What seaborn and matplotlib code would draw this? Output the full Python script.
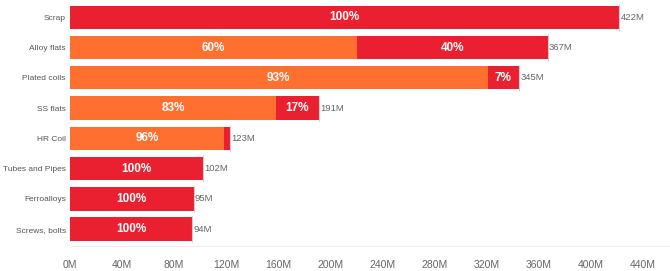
import matplotlib

matplotlib.use("Agg")
import matplotlib.pyplot as plt
import numpy as np
import pandas as pd
import seaborn as sns
from matplotlib.ticker import FuncFormatter, MultipleLocator

categories = [
    "Scrap",
    "Alloy flats",
    "Plated coils",
    "SS flats",
    "HR Coil",
    "Tubes and Pipes",
    "Ferroalloys",
    "Screws, bolts",
]
totals = [422, 367, 345, 191, 123, 102, 95, 94]
orange_pct = [0, 60, 93, 83, 96, 0, 0, 0]

RED = "#EA1F2F"
ORANGE = "#FF6F30"
GREY = "#666666"

sns.set_style("white")
plt.rcParams["font.family"] = ["Liberation Sans", "DejaVu Sans"]

df = pd.DataFrame({"category": categories, "total": totals, "pct": orange_pct})
df["orange"] = df["total"] * df["pct"] / 100.0

fig = plt.figure(figsize=(6.7, 2.71), dpi=100)
ax = fig.add_axes([0.1045, 0.092, 0.8955, 0.9])

sns.barplot(data=df, x="total", y="category", color=RED, width=0.77,
            saturation=1, ax=ax, edgecolor="none")
sns.barplot(data=df, x="orange", y="category", color=ORANGE, width=0.77,
            saturation=1, ax=ax, edgecolor="none")

ypos = np.arange(len(categories))
ax.vlines(df["total"], ypos - 0.44, ypos + 0.44, color="#cccccc", linewidth=0.8, zorder=3)

for i, row in df.iterrows():
    ax.text(row["total"] + 1.0, i, f"{row['total']}M", va="center", ha="left",
            fontsize=6.8, color=GREY)
    if row["pct"] > 0:
        ax.text(row["orange"] / 2, i, f"{row['pct']}%", va="center", ha="center",
                fontsize=8.5, color="white", fontweight="bold")
    red_pct = 100 - row["pct"]
    red_w = row["total"] - row["orange"]
    if red_pct > 0 and red_w > 15:
        ax.text(row["orange"] + red_w / 2, i, f"{red_pct}%", va="center", ha="center",
                fontsize=8.5, color="white", fontweight="bold")

ax.set_xlim(0, 461)
ax.set_ylim(7.56, -0.5)
ax.xaxis.set_major_locator(MultipleLocator(40))
ax.xaxis.set_minor_locator(MultipleLocator(20))
ax.xaxis.set_major_formatter(FuncFormatter(lambda v, _: f"{v:.0f}M"))
ax.tick_params(axis="x", which="both", length=3, color="#eeeeee", labelsize=7.5,
               labelcolor=GREY, pad=7)
ax.tick_params(axis="y", length=0, labelsize=6.0, labelcolor="#555555", pad=3)
ax.set_xlabel("")
ax.set_ylabel("")
for side in ["top", "right", "left"]:
    ax.spines[side].set_visible(False)
ax.spines["bottom"].set_color("#eeeeee")
ax.spines["bottom"].set_linewidth(0.8)

fig.savefig("out.png", dpi=100)
